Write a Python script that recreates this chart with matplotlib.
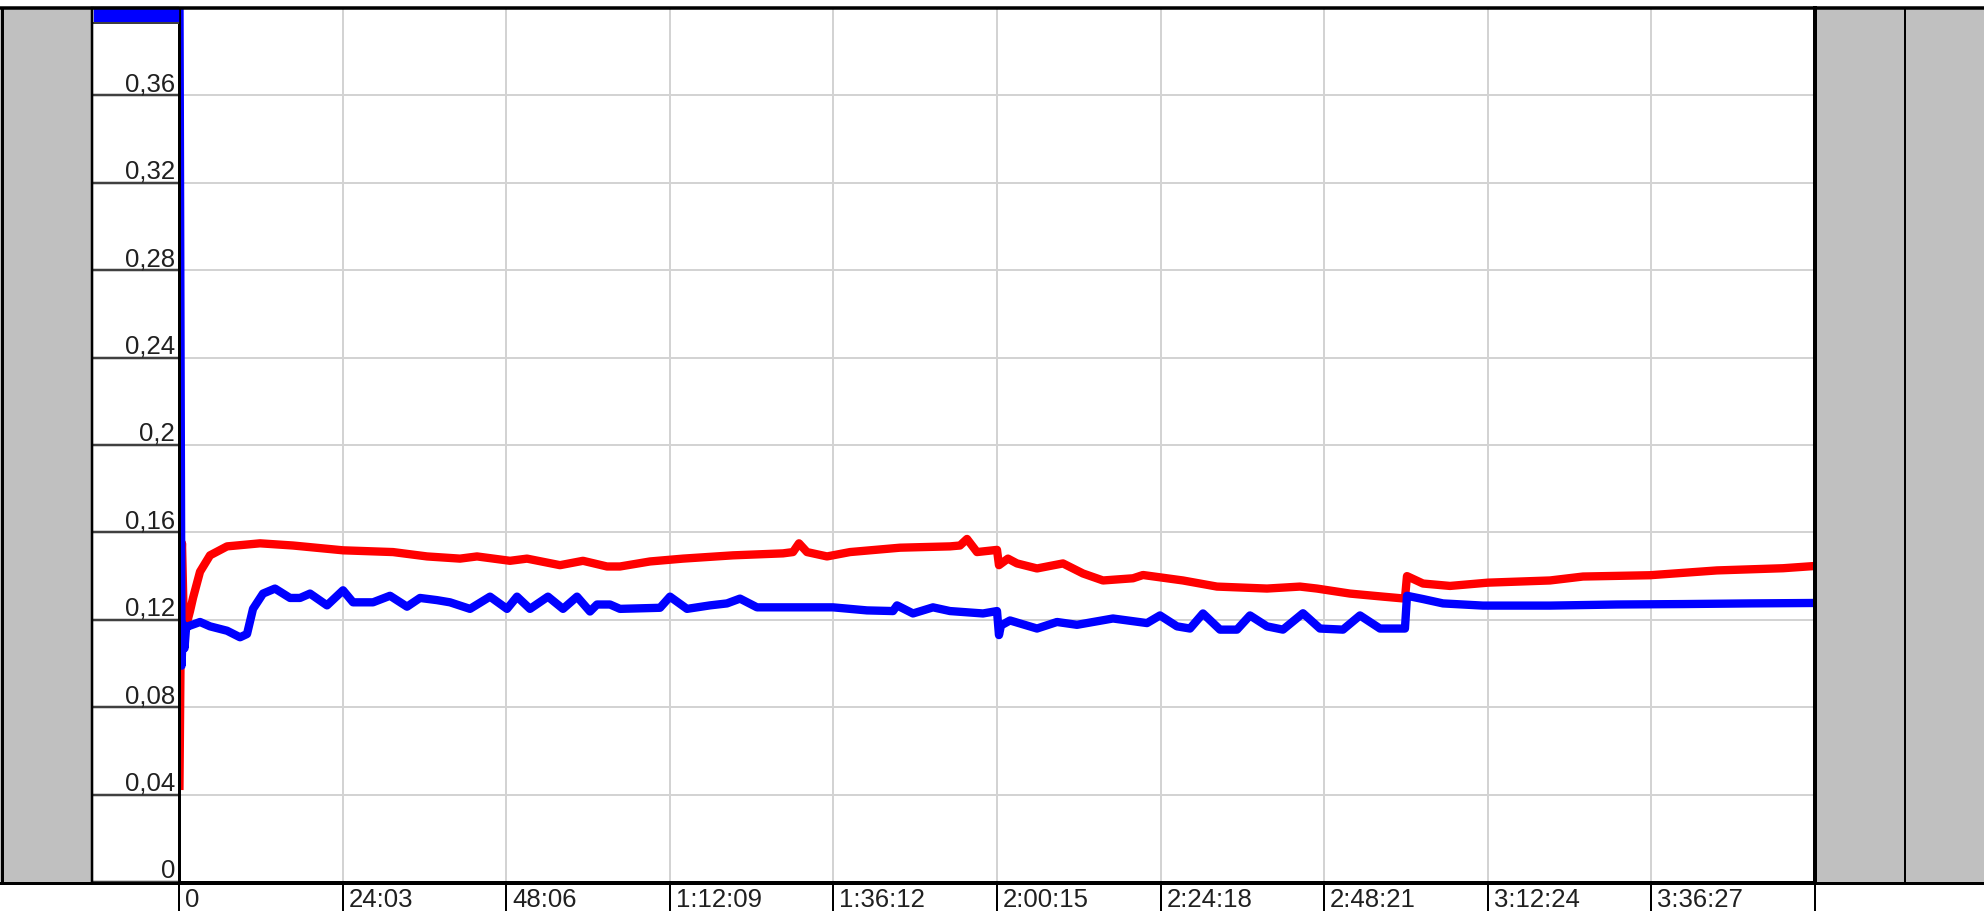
import matplotlib
matplotlib.use('Agg')
import matplotlib.pyplot as plt
from matplotlib.patches import Rectangle
from matplotlib.lines import Line2D

# time in minutes
red_t = [0.07, 0.22, 0.29, 0.44, 0.66, 1.03, 1.62, 2.06, 3.09, 4.56, 7.06, 11.91, 16.76,
         24.11, 31.46, 36.46, 41.31, 43.81, 48.66, 51.16, 56.01, 59.39, 62.92, 64.83,
         69.24, 74.09, 81.44, 88.79, 90.26, 91.14, 92.32, 95.26, 98.64, 105.99, 113.34,
         114.81, 115.84, 117.31, 120.25, 120.54, 121.86, 123.19, 126.13, 129.95, 132.89,
         135.83, 140.24, 141.71, 147.59, 152.59, 159.94, 164.79, 167.29, 172.14, 176.99,
         180.22, 180.52, 182.87, 186.84, 192.42, 201.54, 206.39, 216.24, 226.09, 235.79,
         240.35]
red_v = [0.044, 0.099, 0.143, 0.155, 0.125, 0.117, 0.124, 0.130, 0.142, 0.1495, 0.1536,
         0.155, 0.154, 0.1518, 0.151, 0.149, 0.148, 0.149, 0.147, 0.148, 0.145, 0.147,
         0.1444, 0.1444, 0.1467, 0.148, 0.1495, 0.1504, 0.151, 0.155, 0.151, 0.149, 0.151,
         0.153, 0.1536, 0.154, 0.157, 0.151, 0.152, 0.145, 0.148, 0.1458, 0.1435, 0.1458,
         0.1412, 0.138, 0.139, 0.1405, 0.138, 0.1352, 0.1343, 0.1352, 0.1343, 0.132,
         0.1306, 0.1297, 0.140, 0.1366, 0.1355, 0.137, 0.138, 0.1398, 0.1404, 0.1426,
         0.1436, 0.1446]

blue_t = [0.07, 0.37, 0.59, 0.81, 1.03, 1.32, 3.09, 4.56, 7.06, 8.97, 10.00, 10.88, 12.35,
          14.11, 16.32, 17.79, 19.26, 21.76, 24.11, 25.58, 28.52, 31.02, 33.52, 35.43,
          37.93, 39.84, 42.78, 45.72, 48.22, 49.69, 51.60, 54.24, 56.45, 58.51, 60.42,
          61.45, 63.36, 64.83, 70.71, 72.18, 74.68, 78.06, 80.56, 82.47, 84.97, 91.29,
          96.14, 101.14, 104.96, 105.55, 107.90, 110.84, 113.34, 118.19, 120.25, 120.54,
          120.83, 122.16, 126.13, 129.07, 132.01, 137.30, 142.30, 144.21, 146.71, 148.62,
          150.53, 153.03, 155.53, 157.44, 159.94, 162.29, 165.23, 167.73, 171.11, 173.61,
          176.55, 180.22, 180.52, 182.87, 185.81, 191.69, 201.54, 211.39, 221.09, 230.94,
          240.35]
blue_v = [0.405, 0.099, 0.118, 0.107, 0.116, 0.117, 0.119, 0.117, 0.115, 0.112, 0.1135,
          0.125, 0.132, 0.1343, 0.130, 0.130, 0.132, 0.1266, 0.1335, 0.128, 0.128, 0.131,
          0.126, 0.130, 0.129, 0.128, 0.125, 0.1306, 0.125, 0.1306, 0.125, 0.1306, 0.125,
          0.1306, 0.1238, 0.127, 0.127, 0.125, 0.1255, 0.1306, 0.125, 0.1266, 0.1275,
          0.1297, 0.1257, 0.1257, 0.1257, 0.1243, 0.124, 0.1266, 0.1229, 0.1257, 0.124,
          0.1229, 0.124, 0.113, 0.1174, 0.1197, 0.116, 0.119, 0.1177, 0.1206, 0.1185,
          0.122, 0.117, 0.116, 0.1229, 0.1155, 0.1155, 0.122, 0.117, 0.1155, 0.123, 0.116,
          0.1155, 0.122, 0.116, 0.116, 0.131, 0.1295, 0.1275, 0.1265, 0.1265, 0.127,
          0.1272, 0.1275, 0.1277]

x_step = 24.05  # 24:03
x_labels = ['0', '24:03', '48:06', '1:12:09', '1:36:12', '2:00:15', '2:24:18',
            '2:48:21', '3:12:24', '3:36:27']
y_ticks = [0, 0.04, 0.08, 0.12, 0.16, 0.2, 0.24, 0.28, 0.32, 0.36]
y_labels = ['0', '0,04', '0,08', '0,12', '0,16', '0,2', '0,24', '0,28', '0,32', '0,36']

W, H = 1984, 912
def fx(px):
    return px / W
def fy(py):
    return 1 - py / H

PT = 72 / 100  # points per pixel
font = dict(family=['Liberation Sans Narrow', 'Liberation Sans'], size=18.5, color='#202020')

fig = plt.figure(figsize=(W / 100, H / 100), dpi=100)
ax = fig.add_axes([fx(179), fy(883), fx(1815) - fx(179), fy(9) - fy(883)])

ax.plot(red_t, red_v, color='#ff0000', lw=6, solid_joinstyle='round')
ax.plot(blue_t, blue_v, color='#0000ff', lw=6, solid_joinstyle='round')

ax.set_xlim(0, 10 * x_step)
ax.set_ylim(0, 0.4)
ax.set_xticks([i * x_step for i in range(11)])
ax.set_xticklabels([])
ax.set_yticks(y_ticks + [0.4])
ax.set_yticklabels([])
ax.tick_params(axis='x', direction='out', length=29 * PT, width=2 * PT, color='black')
ax.tick_params(axis='y', direction='out', length=86 * PT, width=2.5 * PT, color='#404040')
ax.grid(True, color='#d3d3d3', lw=2 * PT)
ax.set_axisbelow(True)

ax.spines['left'].set_linewidth(3 * PT)
ax.spines['bottom'].set_linewidth(3 * PT)
ax.spines['right'].set_linewidth(4 * PT)
ax.spines['top'].set_visible(False)

for v, lab in zip(y_ticks, y_labels):
    ax.annotate(lab, xy=(0, v), xycoords=('axes fraction', 'data'), xytext=(-4, 5),
                textcoords='offset pixels', ha='right', va='baseline',
                annotation_clip=False, **font)
for i, lab in enumerate(x_labels):
    ax.annotate(lab, xy=(i * x_step, 0), xycoords=('data', 'axes fraction'), xytext=(6, -5),
                textcoords='offset pixels', ha='left', va='top',
                annotation_clip=False, **font)

# side panels
gray = '#c0c0c0'
fig.add_artist(Rectangle((0, fy(883)), fx(92), fy(9) - fy(883), color=gray, zorder=0))
fig.add_artist(Rectangle((fx(1815), fy(883)), 1 - fx(1815), fy(9) - fy(883), color=gray, zorder=0))
fig.add_artist(Rectangle((fx(94), fy(23)), fx(84), 13 / H, color='#0000ff', zorder=2))
fig.add_artist(Line2D([fx(93), fx(178)], [fy(24), fy(24)], color='#404040', lw=2 * PT, zorder=3))

# frame lines
fig.add_artist(Line2D([0, 1], [fy(8.5), fy(8.5)], color='black', lw=3.5 * PT, zorder=5))
fig.add_artist(Line2D([0, 1], [fy(884), fy(884)], color='black', lw=3 * PT, zorder=5))
fig.add_artist(Line2D([fx(1.5), fx(1.5)], [fy(884), fy(8.5)], color='black', lw=3 * PT, zorder=5))
fig.add_artist(Line2D([fx(92), fx(92)], [fy(884), fy(8.5)], color='black', lw=2.5 * PT, zorder=5))
fig.add_artist(Line2D([fx(1905), fx(1905)], [fy(884), fy(8.5)], color='black', lw=2 * PT, zorder=5))

fig.savefig('out.png', dpi=100)
